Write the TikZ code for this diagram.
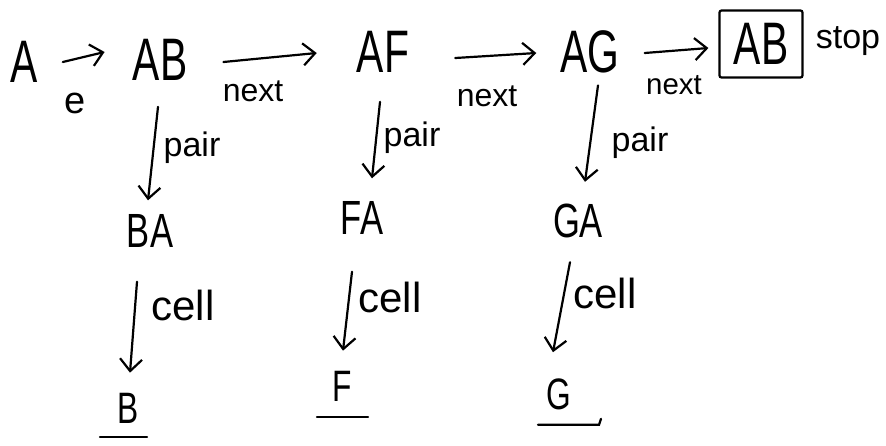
\documentclass[tikz,border=0pt]{standalone}
\usepackage{fontspec}
\setmainfont{Liberation Sans}
\usetikzlibrary{arrows.meta}
\newcommand\nartop[1]{\scalebox{0.68}[1]{#1}}
\newcommand\narmid[1]{\scalebox{0.72}[1]{#1}}
\begin{document}
\begin{tikzpicture}[x=1pt,y=-1pt,
  captop/.style={inner sep=0pt,font=\fontsize{60}{62}\selectfont},
  capmid/.style={inner sep=0pt,font=\fontsize{48}{50}\selectfont},
  capbot/.style={inner sep=0pt,font=\fontsize{44}{46}\selectfont},
  lblnext/.style={inner sep=0pt,font=\fontsize{32}{34}\selectfont},
  lblpair/.style={inner sep=0pt,font=\fontsize{34}{36}\selectfont},
  lblcell/.style={inner sep=0pt,font=\fontsize{42}{44}\selectfont},
  lble/.style={inner sep=0pt,font=\fontsize{38}{40}\selectfont},
  stopbox/.style={draw,line width=2.2pt,rounded corners=2pt,minimum width=83pt,minimum height=67pt,inner sep=0pt},
  arr/.style={line width=2.2pt,line cap=round,-{Straight Barb[length=12pt,width=22pt,line width=2.2pt]}},
  uline/.style={line width=2.2pt,line cap=round}]
\useasboundingbox (0,0) rectangle (886,445);
% top row
\node[captop] (A) at (24,62) {\nartop{A}};
\node[captop] (AB) at (160,60) {\nartop{AB}};
\node[captop] (AF) at (383,52) {\nartop{AF}};
\node[captop] (AG) at (590,52) {\nartop{AG}};
\node[captop,stopbox] (ABs) at (761,44) {\nartop{AB}};
\node[lblpair] (stop) at (848,41) {stop};
% middle row
\node[capmid] (BA) at (150,231) {\narmid{BA}};
\node[capmid] (FA) at (362,218) {\narmid{FA}};
\node[capmid] (GA) at (578,221) {\narmid{GA}};
% bottom row
\node[capbot] (B) at (128,408) {\narmid{B}};
\node[capbot] (F) at (342,386) {\narmid{F}};
\node[capbot] (G) at (559,394) {\narmid{G}};
% labels
\node[lble] (le) at (75,103) {e};
\node[lblnext] (ln1) at (253,91) {next};
\node[lblnext] (ln2) at (487,96) {next};
\node[lblnext,scale=0.92] (ln3) at (674,85) {next};
\node[lblpair] (lp1) at (192,148) {pair};
\node[lblpair] (lp2) at (412,138) {pair};
\node[lblpair] (lp3) at (640,143) {pair};
\node[lblcell] (lc1) at (183,305) {cell};
\node[lblcell] (lc2) at (390,297) {cell};
\node[lblcell] (lc3) at (605,293) {cell};
% horizontal arrows
\draw[arr] ([xshift=25pt]A.east) -- ([shift={(-28pt,8pt)}]AB.west);
\draw[arr] ([shift={(36pt,-2pt)}]AB.east) -- ([shift={(-40pt,-1pt)}]AF.west);
\draw[arr] ([shift={(46pt,-6pt)}]AF.east) -- ([shift={(-24pt,-1pt)}]AG.west);
\draw[arr] ([shift={(25pt,-1pt)}]AG.east) -- ([shift={(-10pt,-4pt)}]ABs.west);
% pair arrows
\draw[arr] ([shift={(-2pt,-26pt)}]AB.south) -- ([shift={(-2pt,14pt)}]BA.north);
\draw[arr] ([shift={(-3pt,-29pt)}]AF.south) -- ([shift={(10pt,23pt)}]FA.north);
\draw[arr] ([shift={(8pt,-12pt)}]AG.south) -- ([shift={(7pt,22pt)}]GA.north);
% cell arrows
\draw[arr] ([shift={(-13pt,-34pt)}]BA.south) -- ([shift={(2pt,20pt)}]B.north);
\draw[arr] ([shift={(-10pt,-37pt)}]FA.south) -- ([shift={(1pt,20pt)}]F.north);
\draw[arr] ([shift={(-8pt,-24pt)}]GA.south) -- ([shift={(-6pt,26pt)}]G.north);
% underlines
\draw[uline] ([shift={(-28pt,-14pt)}]B.south) -- ++(47pt,0);
\draw[uline] ([shift={(-25pt,-16pt)}]F.south) -- ++(51pt,0);
\draw[uline] ([shift={(-21pt,-15pt)}]G.south) -- ++(61pt,0) -- ++(2pt,6pt);
\end{tikzpicture}
\end{document}
